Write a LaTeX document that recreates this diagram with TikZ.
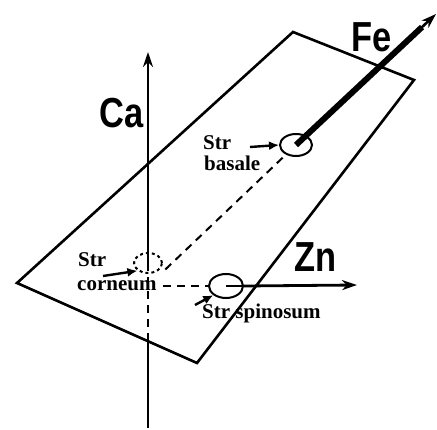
\documentclass[tikz,border=0pt]{standalone}
\usepackage{fontspec}
\setmainfont{Liberation Serif}
\newfontfamily\bigf{Liberation Sans}
\usetikzlibrary{arrows.meta,shapes.geometric,calc}
\begin{document}
\begin{tikzpicture}[x=1pt,y=-1pt,
 plane/.style={line width=2.6pt, line join=miter},
 axis/.style={line width=2.8pt},
 hid/.style={line width=2pt, dash pattern=on 8pt off 6pt},
 ring/.style={draw, ellipse, line width=2pt, inner sep=0pt},
 lbl/.style={font=\fontsize{21}{21}\selectfont\bfseries, inner sep=0pt, anchor=base west},
 elem/.style={font=\bigf\fontsize{42}{42}\selectfont\bfseries, inner sep=0pt, anchor=base west},
 ptr/.style={line width=2.4pt, -{Latex[length=10pt,width=9pt]}},
 tip/.style={-{Stealth[length=15pt,width=10pt]}}
]
\useasboundingbox (0,0) rectangle (437,430);
% plane
\coordinate (P1) at (17,283);
\coordinate (P2) at (293,32);
\coordinate (P3) at (414,80);
\coordinate (P4) at (197,363);
\draw[plane] (P1) -- (P2) -- (P3) -- (P4) -- cycle;
% rings
\node[ring, dashed, minimum width=28pt, minimum height=20pt] (cor) at (148,263) {};
\node[ring, minimum width=32pt, minimum height=22pt] (bas) at (296,145) {};
\node[ring, minimum width=34pt, minimum height=24pt] (spi) at (226,286) {};
% axis points
\coordinate (O) at (148,286);
\coordinate (CaTop) at (148,52);
\coordinate (Cx) at (148,340);
\coordinate (CaBot) at (148,428);
\coordinate (FeTip) at (436,14);
\coordinate (ZnTip) at (357,285);
% Ca axis
\draw[axis, tip] (cor.center) -- (CaTop);
\draw[hid] (cor.center) -- (Cx);
\draw[line width=2pt] (Cx) -- (CaBot);
% hidden connections
\draw[hid, shorten <=24pt] (O) -- (bas);
\draw[hid, shorten <=15pt] (O) -- (spi.west);
% Fe axis
\draw[line width=6pt] (bas.center) -- ($(bas.center)!0.9!(FeTip)$);
\draw[line width=2.6pt, tip] ($(bas.center)!0.85!(FeTip)$) -- (FeTip);
% Zn axis
\draw[line width=1.6pt] (spi.center) -- (spi.east);
\draw[axis, tip] (spi.east) -- (ZnTip);
% element labels
\node[elem] (ca) at (99,128) {\scalebox{0.82}[1]{Ca}};
\node[elem] (fe) at (351,52) {\scalebox{0.82}[1]{Fe}};
\node[elem] (zn) at (294,272) {\scalebox{0.82}[1]{Zn}};
% layer labels
\node[lbl] (basA) at (203,150) {Str};
\node[lbl] (basB) at (204,171) {basale};
\node[lbl] (corA) at (78,267) {Str};
\node[lbl] (corB) at (77,291) {corneum};
\node[lbl] (spiA) at (202,319) {Str spinosum};
% pointers
\coordinate (pb) at (250,147);
\coordinate (pc) at (103,276);
\coordinate (ps) at (195,305);
\draw[ptr] (pb) -- (bas.west);
\draw[ptr] (pc) -- (cor.south west);
\draw[ptr] (ps) -- (spi.south west);
\end{tikzpicture}
\end{document}
